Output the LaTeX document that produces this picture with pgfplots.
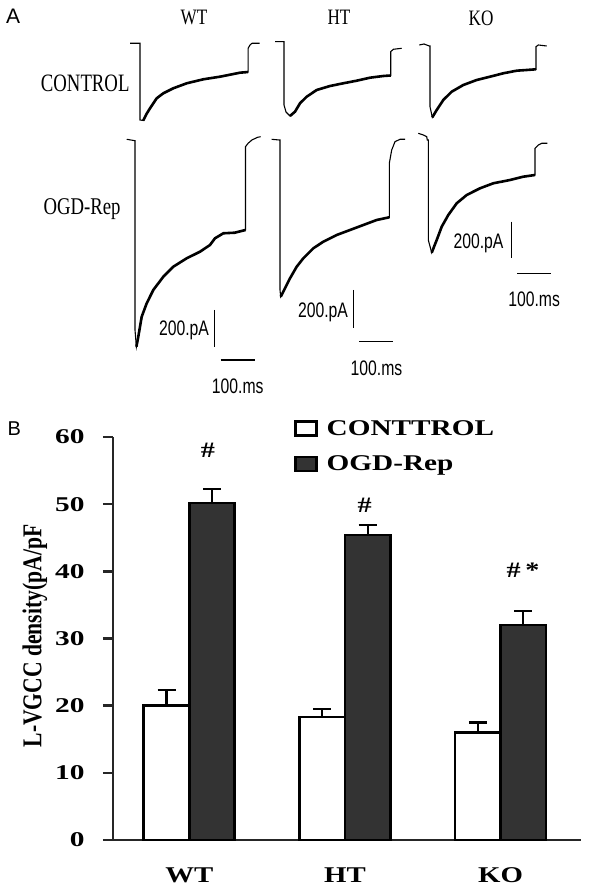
\documentclass[border=0pt]{standalone}
\usepackage{fontspec}
\setmainfont{Liberation Serif}
\newfontfamily\sansf{Liberation Sans}
\usepackage{pgfplots}
\pgfplotsset{compat=1.18}
\definecolor{ogd}{HTML}{333333}
\newcommand{\hs}[2]{\scalebox{#1}[1]{#2}}
\newcommand{\fs}[1]{\fontsize{#1pt}{#1pt}\selectfont}
\begin{document}
\begin{tikzpicture}
\path[use as bounding box] (0,0) rectangle (592pt,888pt);
% ---------------- Panel A : current traces (pixel coordinates) -------------
\begin{axis}[at={(296pt,688pt)}, anchor=center, scale only axis,
  width=592pt, height=400pt, xmin=0, xmax=592, ymin=0, ymax=400,
  y dir=reverse, hide axis, clip=false]
% WT control
\addplot[black, line width=1.1pt] coordinates {(130,43.3) (140,43.3) (140,120) (143.3,120.5) (146.5,114) (150,108.3) (156.7,98.3) (163.3,93.3) (173.3,88.3) (186.7,83.3) (203.3,79.3) (220,76.7) (240,72.7) (248.1,72) (248.1,48.3) (250,45) (252,43.3) (259.5,43.3)};
\addplot[black, line width=2.6pt] coordinates {(143.3,120.5) (146.5,114) (150,108.3) (156.7,98.3) (163.3,93.3) (173.3,88.3) (186.7,83.3) (203.3,79.3) (220,76.7) (240,72.7) (248.1,72)};
% HT control
\addplot[black, line width=1.1pt] coordinates {(275,41.7) (284,41.7) (284,105) (286,112) (290,116) (295,111.7) (300,103.3) (306.7,96.7) (316.7,90) (330,86) (343.3,83.3) (356.7,80.7) (370,77.7) (383.3,76) (390.7,75.5) (390.7,51.7) (393.3,49.3) (401.7,48.3)};
\addplot[black, line width=2.6pt] coordinates {(290,116) (295,111.7) (300,103.3) (306.7,96.7) (316.7,90) (330,86) (343.3,83.3) (356.7,80.7) (370,77.7) (383.3,76) (390.7,75.5)};
% KO control
\addplot[black, line width=1.1pt] coordinates {(419.3,45) (424,44) (429.3,46) (430,46) (430,106.7) (432.3,117.3) (436.7,110) (443.3,100) (451.7,91.7) (463.3,85) (476.7,80) (490,76.7) (503.3,73.3) (516.7,70.7) (526.7,70) (536,69.3) (536,46.7) (538.3,45) (546.7,46)};
\addplot[black, line width=2.6pt] coordinates {(432.3,117.3) (436.7,110) (443.3,100) (451.7,91.7) (463.3,85) (476.7,80) (490,76.7) (503.3,73.3) (516.7,70.7) (526.7,70) (536,69.3)};
% WT OGD-Rep
\addplot[black, line width=1.1pt] coordinates {(126.7,139.3) (135,140.7) (135,330) (136.4,346.7) (138.3,336.7) (141.7,316.7) (146.7,303.3) (153.3,290) (163.3,276.7) (173.3,266.7) (186.7,258.3) (200,251.7) (210,245) (215,238.3) (223.3,233.3) (234.8,232.7) (245.5,230) (245.5,146.7) (248.1,143.3) (251.9,140) (257.6,137.3) (260.6,136.7)};
\addplot[black, line width=2.6pt] coordinates {(136.4,346.7) (138.3,336.7) (141.7,316.7) (146.7,303.3) (153.3,290) (163.3,276.7) (173.3,266.7) (186.7,258.3) (200,251.7) (210,245) (215,238.3) (223.3,233.3) (234.8,232.7) (245.5,230)};
% HT OGD-Rep
\addplot[black, line width=1.1pt] coordinates {(271.7,139.3) (279.3,140) (280,140) (280,290) (280.7,296.7) (285,288.3) (290,278.3) (296.7,266.7) (303.3,258.3) (313.3,248.3) (323.3,241.7) (336.7,235) (350,230) (363.3,225) (376.7,220) (389.3,217.3) (389.3,163.3) (391.7,150) (395,141.7) (400,139.3) (405,139.3)};
\addplot[black, line width=2.6pt] coordinates {(280.7,296.7) (285,288.3) (290,278.3) (296.7,266.7) (303.3,258.3) (313.3,248.3) (323.3,241.7) (336.7,235) (350,230) (363.3,225) (376.7,220) (389.3,217.3)};
% KO OGD-Rep
\addplot[black, line width=1.1pt] coordinates {(418.3,133.3) (423.3,135) (426.7,136.7) (427.3,140) (428.3,140) (428.3,240) (431.7,252.7) (436.7,240) (441.7,226.7) (448.3,215) (456.7,203.3) (466.7,195) (480,188.3) (493.3,183.3) (510,180) (523.3,176.7) (535,175) (535,148.3) (538.3,145) (541.7,143.3) (547.3,143.3)};
\addplot[black, line width=2.6pt] coordinates {(431.7,252.7) (436.7,240) (441.7,226.7) (448.3,215) (456.7,203.3) (466.7,195) (480,188.3) (493.3,183.3) (510,180) (523.3,176.7) (535,175)};
% scale bars
\addplot[black, line width=1.2pt] coordinates {(214.8,310) (214.8,346.7)};
\addplot[black, line width=1.2pt] coordinates {(220.5,360) (254.5,360)};
\addplot[black, line width=1.2pt] coordinates {(353.4,290) (353.4,328.3)};
\addplot[black, line width=1.2pt] coordinates {(359.1,341.7) (393.2,341.7)};
\addplot[black, line width=1.2pt] coordinates {(511.4,221.7) (511.4,258.3)};
\addplot[black, line width=1.2pt] coordinates {(517,273.3) (551.1,273.3)};
% labels
\node[font=\sansf\fs{21}] at (axis cs:13.2,15.8) {A};
\node[font=\fs{22}, anchor=base] at (axis cs:194,25) {\hs{0.78}{WT}};
\node[font=\fs{22}, anchor=base] at (axis cs:339,25) {\hs{0.78}{HT}};
\node[font=\fs{22}, anchor=base] at (axis cs:481,25.5) {\hs{0.78}{KO}};
\node[font=\fs{25}, anchor=base] at (axis cs:85.2,91.5) {\hs{0.75}{CONTROL}};
\node[font=\fs{24}, anchor=base] at (axis cs:82,215) {\hs{0.78}{OGD-Rep}};
\node[font=\sansf\fs{21}] at (axis cs:184,330) {\hs{0.75}{200.pA}};
\node[font=\sansf\fs{21}] at (axis cs:323,312.5) {\hs{0.75}{200.pA}};
\node[font=\sansf\fs{21}] at (axis cs:478.5,243) {\hs{0.75}{200.pA}};
\node[font=\sansf\fs{21}] at (axis cs:237.7,386.7) {\hs{0.75}{100.ms}};
\node[font=\sansf\fs{21}] at (axis cs:376.5,368.7) {\hs{0.75}{100.ms}};
\node[font=\sansf\fs{21}] at (axis cs:534.1,299.2) {\hs{0.75}{100.ms}};
\node[font=\sansf\fs{20}] at (axis cs:14.2,428.8) {B};
\end{axis}
% ---------------- Panel B : bar chart ---------------------------------------
\begin{axis}[at={(347pt,249.5pt)}, anchor=center, scale only axis,
  width=468pt, height=403pt,
  xmin=-0.49, xmax=2.517, ymin=0, ymax=60,
  axis x line=bottom, axis y line=left,
  axis line style={line width=2.6pt, black!85, -},
  ybar=0pt, bar width=45.5pt,
  xtick={0,1,2},
  xticklabels={\hs{1.28}{WT},\hs{1.28}{HT},\hs{1.28}{KO}},
  x tick style={draw=none},
  xticklabel style={font=\bfseries\fs{22.5}, anchor=base, inner sep=0pt, yshift=-33pt},
  ytick={0,10,20,30,40,50,60},
  yticklabels={\hs{1.4}{0},\hs{1.4}{10},\hs{1.4}{20},\hs{1.4}{30},\hs{1.4}{40},\hs{1.4}{50},\hs{1.4}{60}},
  yticklabel style={font=\bfseries\fs{21}, xshift=-15pt},
  tick align=outside, major tick length=10pt,
  y tick style={line width=2.6pt, black!85},
  ylabel={\scalebox{1}[1.26]{L-VGCC density(pA/pF}},
  ylabel style={font=\bfseries\fs{21.6}, at={(axis description cs:-0.1667,0.506)}, anchor=center},
  legend image code/.code={\draw[#1, line width=2.5pt] (0pt,-7pt) rectangle (21pt,7pt);},
  legend style={at={(axis description cs:0.3868,1.042)}, anchor=north west,
    draw=none, fill=none, inner sep=0pt, font=\bfseries\fs{22.5},
    row sep=19pt, nodes={inner sep=0pt},
    /tikz/every odd column/.append style={column sep=9pt}},
  legend cell align=left,
  clip=false]
\addplot[fill=white, draw=black, line width=2.6pt,
  error bars/.cd, y dir=plus, y explicit, error mark=|,
  error bar style={line width=2.2pt, black},
  error mark options={line width=2.2pt, black, mark size=9pt}]
  coordinates {(0,20.0) +- (0,2.3) (1,18.3) +- (0,1.2) (2,16.0) +- (0,1.5)};
\addplot[fill=ogd, draw=black, line width=2.6pt,
  error bars/.cd, y dir=plus, y explicit, error mark=|,
  error bar style={line width=2.2pt, black},
  error mark options={line width=2.2pt, black, mark size=9pt}]
  coordinates {(0,50.2) +- (0,2.0) (1,45.4) +- (0,1.5) (2,32.0) +- (0,2.1)};
\legend{\hs{1.3}{CONTTROL},\hs{1.3}{OGD-Rep}}
\node[font=\bfseries\fs{22}, anchor=base] at (axis cs:0.12,57.0) {\hs{1.28}{\#}};
\node[font=\bfseries\fs{22}, anchor=base] at (axis cs:1.127,48.8) {\hs{1.28}{\#}};
\node[font=\bfseries\fs{22}, anchor=base] at (axis cs:2.145,39.1) {\hs{1.28}{\#\,*}};
\end{axis}
\end{tikzpicture}
\end{document}
